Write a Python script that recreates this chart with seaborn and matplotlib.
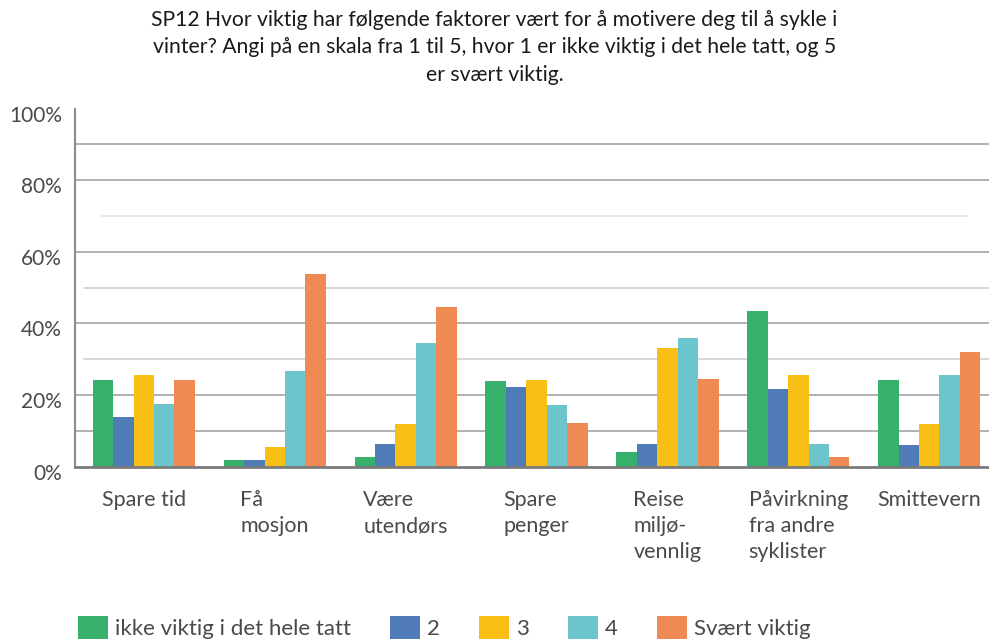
import pandas as pd
import matplotlib.pyplot as plt
import matplotlib.transforms as mtransforms
import seaborn as sns

# data (percent)
categories = ["Spare tid", "Få\nmosjon", "Være\nutendørs", "Spare\npenger",
              "Reise\nmiljø-\nvennlig", "Påvirkning\nfra andre\nsyklister", "Smittevern"]
levels = ["ikke viktig i det hele tatt", "2", "3", "4", "Svært viktig"]
ikke_viktig = [24.2, 1.8, 2.8, 23.9, 4.2, 43.6, 24.2]
niva_2 = [14.0, 1.8, 6.3, 22.2, 6.3, 21.8, 6.0]
niva_3 = [25.6, 5.6, 11.9, 24.2, 33.1, 25.6, 11.9]
niva_4 = [17.5, 26.6, 34.5, 17.2, 35.9, 6.3, 25.6]
svaert_viktig = [24.2, 53.8, 44.5, 12.3, 24.6, 2.8, 32.0]
ytick_values = [0, 20, 40, 60, 80, 100]
ytick_labels = ["0%", "20%", "40%", "60%", "80%", "100%"]

colors = ["#37B06C", "#4F7CB7", "#F8BF17", "#6CC4CC", "#F08A54"]

rows = []
for lev, vals in zip(levels, [ikke_viktig, niva_2, niva_3, niva_4, svaert_viktig]):
    for cat, v in zip(categories, vals):
        rows.append({"kategori": cat, "niva": lev, "andel": v})
df = pd.DataFrame(rows)

sns.set_style("white")
plt.rcParams["font.family"] = ["Lato", "DejaVu Sans"]

fig = plt.figure(figsize=(9.89, 6.4), dpi=100)
ax = fig.add_axes([0.0758, 0.2708, 0.93, 0.5594])

sns.barplot(data=df, x="kategori", y="andel", hue="niva", order=categories,
            hue_order=levels, palette=colors, saturation=1, width=0.78,
            linewidth=0, ax=ax, zorder=3)

ax.set_ylim(0, 100)
ax.set_xlim(-0.526, 6.5)

# gridlines every 10 %, some lighter like the original
for y in [10, 20, 40, 60, 80, 90]:
    ax.axhline(y, color="#ababab", lw=1.3, zorder=1)
for y in [30, 50]:
    ax.axhline(y, color="#cfcfcf", lw=1.2, zorder=1, xmin=0.01)
ax.axhline(70, color="#e2e2e2", lw=1.2, zorder=1, xmin=0.029, xmax=0.97)

# y labels sit a little below their gridline in the original
ax.set_yticks([])
off = mtransforms.ScaledTranslation(-13 / 100, -7 / 100, fig.dpi_scale_trans)
for v, lab in zip(ytick_values, ytick_labels):
    ax.text(0, v, lab, transform=ax.get_yaxis_transform() + off,
            ha="right", va="center", fontsize=15, color="#4a4a4a")

ax.set_xticks(range(len(categories)))
ax.set_xticklabels(categories, fontsize=15.5, color="#4a4a4a",
                   multialignment="left", linespacing=1.38)
ax.tick_params(axis="x", length=0, pad=17)

ax.set_xlabel("")
ax.set_ylabel("")
for s in ["top", "right"]:
    ax.spines[s].set_visible(False)
ax.spines["left"].set_color("#8c8c8c")
ax.spines["left"].set_linewidth(1.5)
ax.spines["bottom"].set_color("#7a7a7a")
ax.spines["bottom"].set_linewidth(2)
ax.spines["bottom"].set_zorder(4)

sns.move_legend(ax, "center", bbox_to_anchor=(0.449, 0.019),
                bbox_transform=fig.transFigure, ncol=5, frameon=False,
                title=None, fontsize=16, handlelength=1.35, handleheight=1.17,
                handletextpad=0.32, columnspacing=1.75)
for t in ax.get_legend().get_texts():
    t.set_color("#4a4a4a")

fig.text(0.5, 1 - 10 / 640,
         "SP12 Hvor viktig har følgende faktorer vært for å motivere deg til å sykle i\n"
         "vinter? Angi på en skala fra 1 til 5, hvor 1 er ikke viktig i det hele tatt, og 5\n"
         "er svært viktig.",
         ha="center", va="top", fontsize=15.2, color="#1a1a1a", linespacing=1.46)

fig.savefig("out.png", dpi=100)
